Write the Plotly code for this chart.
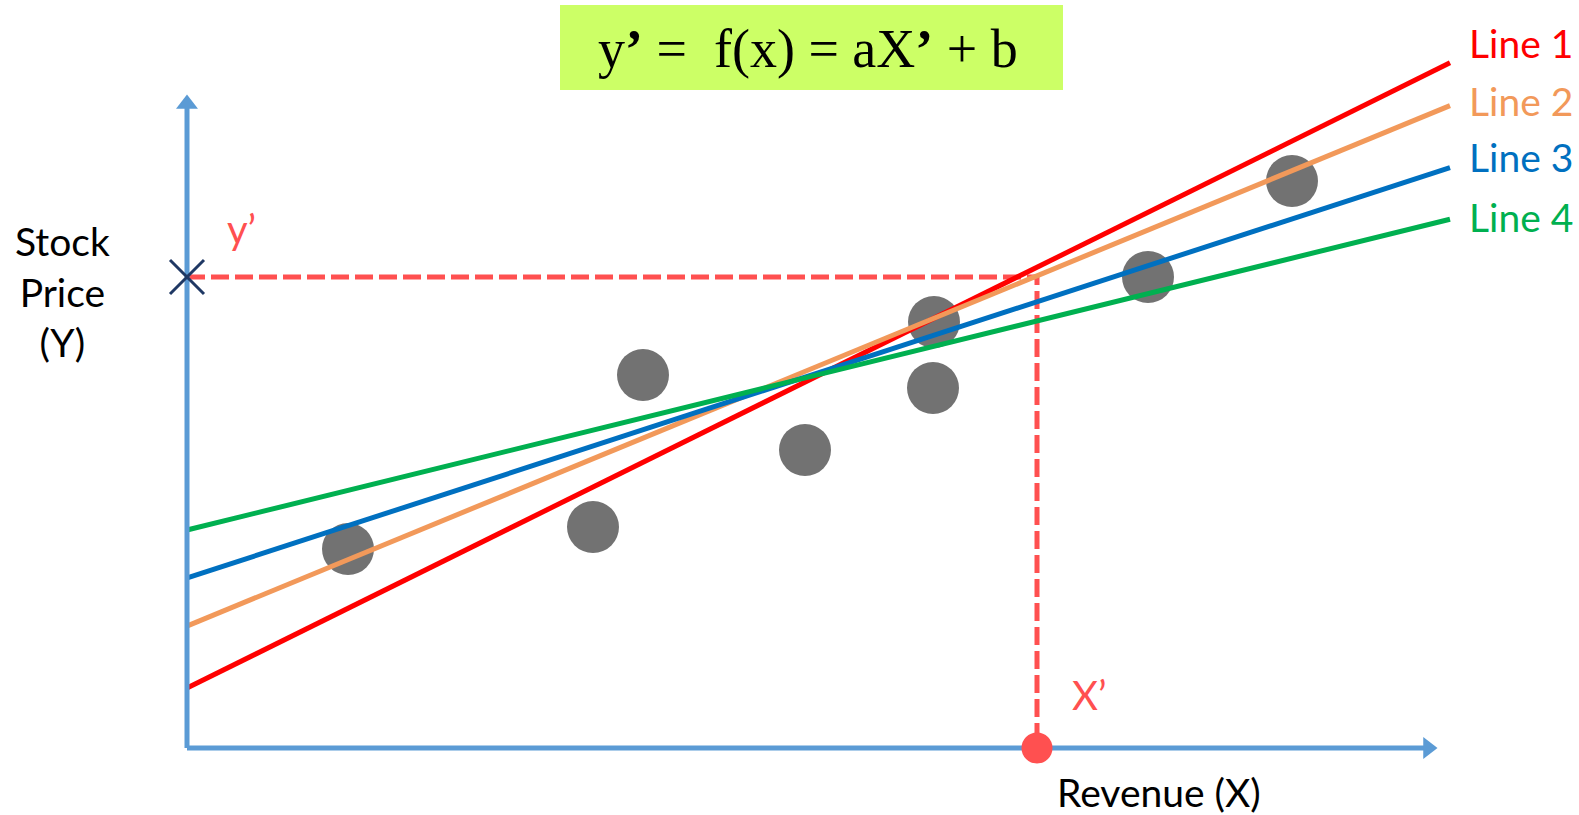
import plotly.graph_objects as go

# Observations: revenue (x) vs. stock price (y)
revenue = [1.61, 4.06, 4.56, 6.18, 7.47, 7.46, 9.61, 11.05]
price = [1.99, 2.21, 3.73, 2.98, 4.26, 3.60, 4.71, 5.67]

# Candidate regression lines y = a*x + b
line_names = ["Line 1", "Line 2", "Line 3", "Line 4"]
line_slopes = [0.495, 0.412, 0.325, 0.246]
line_intercepts = [0.60, 1.22, 1.70, 2.18]
line_colors = ["#FF0000", "#F2995A", "#0070C0", "#00B050"]

# Prediction: X' on the revenue axis and the predicted y'
x_prime = 8.50
y_prime = 4.71

# Axis extents (in data units)
x_axis_max = 12.50
y_axis_max = 6.53
line_x_start = 0.01
line_x_end = 12.63

W, H = 1579, 815
AXIS_COLOR = "#5B9BD5"
PRED_COLOR = "#FF5050"
SANS = "Lato, Carlito, Calibri, sans-serif"
SERIF = "Liberation Serif, Times New Roman, serif"

fig = go.Figure()

# dashed guides from X' up to the line and across to y'
fig.add_trace(go.Scatter(
    x=[0, x_prime, x_prime], y=[y_prime, y_prime, 0],
    mode="lines", line=dict(color=PRED_COLOR, width=5, dash="18px,6px"),
    hoverinfo="skip"))

# data points
fig.add_trace(go.Scatter(
    x=revenue, y=price, mode="markers",
    marker=dict(size=52, color="#727272", line=dict(width=0))))

# candidate lines
for name, a, b, c in zip(line_names, line_slopes, line_intercepts, line_colors):
    xs = [line_x_start, line_x_end]
    fig.add_trace(go.Scatter(
        x=xs, y=[a * x + b for x in xs],
        mode="lines", line=dict(color=c, width=5), name=name))

# line labels stacked at the right edge
label_py = [43, 101, 157, 217]
for name, c, py in zip(line_names, line_colors, label_py):
    fig.add_annotation(
        x=1467 / W, y=1 - py / H, xref="paper", yref="paper",
        xanchor="left", yanchor="middle", showarrow=False,
        text=name, font=dict(family=SANS, size=39, color=c))

# axes with arrowheads
fig.add_trace(go.Scatter(x=[0, 0], y=[0, y_axis_max - 0.12], mode="lines",
                         line=dict(color=AXIS_COLOR, width=5)))
fig.add_trace(go.Scatter(x=[0, x_axis_max - 0.12], y=[0, 0], mode="lines",
                         line=dict(color=AXIS_COLOR, width=5)))
fig.add_trace(go.Scatter(x=[0], y=[y_axis_max - 0.09], mode="markers",
                         marker=dict(symbol="triangle-up", size=19, color=AXIS_COLOR)))
fig.add_trace(go.Scatter(x=[x_axis_max - 0.09], y=[0], mode="markers",
                         marker=dict(symbol="triangle-right", size=19, color=AXIS_COLOR)))

# y' cross on the price axis and X' dot on the revenue axis
fig.add_trace(go.Scatter(x=[0], y=[y_prime], mode="markers",
                         marker=dict(symbol="x-thin", size=34,
                                     line=dict(color="#1F3864", width=3))))
fig.add_trace(go.Scatter(x=[x_prime], y=[0], mode="markers",
                         marker=dict(size=31, color=PRED_COLOR)))

# formula box
fig.add_shape(type="rect", xref="paper", yref="paper",
              x0=560 / W, x1=1063 / W, y0=1 - 90 / H, y1=1 - 5 / H,
              fillcolor="#CCFF66", line=dict(width=0), layer="below")
fig.add_annotation(x=808 / W, y=1 - 49 / H, xref="paper", yref="paper",
                   showarrow=False, xanchor="center", yanchor="middle",
                   text="y<b>’</b> =\u00a0\u00a0f(x) = aX<b>’</b> + b",
                   font=dict(family=SERIF, size=54, color="black"))

# axis titles and prediction labels
fig.add_annotation(x=62 / W, y=1 - 292 / H, xref="paper", yref="paper",
                   showarrow=False, xanchor="center", yanchor="middle",
                   text="Stock<br>Price<br>(Y)", align="center",
                   font=dict(family=SANS, size=39, color="black"))
fig.add_annotation(x=1159 / W, y=1 - 792 / H, xref="paper", yref="paper",
                   showarrow=False, xanchor="center", yanchor="middle",
                   text="Revenue (X)",
                   font=dict(family=SANS, size=39, color="black"))
fig.add_annotation(x=241 / W, y=1 - 229 / H, xref="paper", yref="paper",
                   showarrow=False, xanchor="center", yanchor="middle",
                   text="y’", font=dict(family=SANS, size=40, color=PRED_COLOR))
fig.add_annotation(x=1089 / W, y=1 - 695 / H, xref="paper", yref="paper",
                   showarrow=False, xanchor="center", yanchor="middle",
                   text="X’", font=dict(family=SANS, size=40, color=PRED_COLOR))

fig.update_layout(
    width=W, height=H, autosize=False,
    margin=dict(l=0, r=0, t=0, b=0, pad=0),
    paper_bgcolor="white", plot_bgcolor="white",
    showlegend=False,
    xaxis=dict(range=[-1.87, 13.92], visible=False, fixedrange=True),
    yaxis=dict(range=[-0.67, 7.48], visible=False, fixedrange=True),
)

fig.write_html("out.html")
